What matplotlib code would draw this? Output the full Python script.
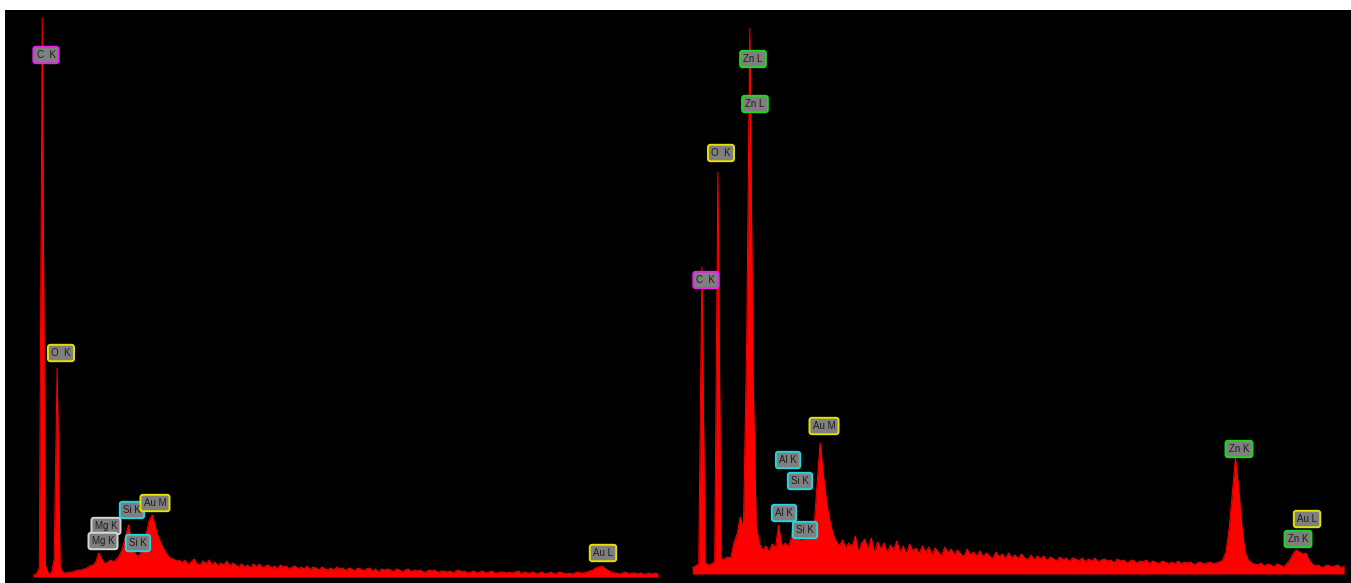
import matplotlib.pyplot as plt
import numpy as np

# EDS spectra, counts per 0.05 keV channel (arbitrary units)
chan_kev = 0.05

left_e0 = 0.14
left_counts = [
    2, 3, 9, 559, 12, 4, 3, 18, 209, 10,
    4, 4, 5, 5, 6, 7, 7, 8, 9, 11,
    12, 15, 24, 18, 13, 15, 17, 15, 18, 22,
    29, 41, 52, 36, 25, 20, 24, 31, 44, 57,
    62, 50, 40, 33, 27, 22, 19, 18, 16, 17,
    14, 17, 12, 15, 18, 13, 12, 16, 13, 17,
    12, 15, 11, 14, 12, 16, 11, 14, 12, 10,
    13, 10, 12, 9, 13, 10, 13, 9, 11, 12,
    9, 11, 8, 12, 10, 11, 8, 10, 11, 8,
    10, 8, 11, 7, 10, 9, 7, 10, 8, 7,
    9, 7, 10, 8, 9, 6, 9, 8, 6, 9,
    8, 6, 8, 9, 6, 8, 5, 8, 7, 8,
    7, 5, 8, 7, 5, 7, 8, 5, 7, 6,
    7, 5, 5, 7, 6, 7, 4, 6, 6, 5,
    6, 4, 6, 7, 5, 6, 4, 5, 6, 4,
    5, 6, 4, 5, 6, 4, 4, 5, 5, 4,
    5, 4, 5, 6, 3, 5, 4, 4, 5, 3,
    4, 5, 3, 4, 5, 3, 4, 5, 4, 3,
    4, 3, 4, 5, 4, 4, 5, 6, 7, 9,
    10, 11, 9, 7, 5, 4, 4, 3, 4, 5,
    3, 4, 4, 3, 4, 3, 3, 4, 3, 4, 3,
]

right_e0 = 0.13
right_counts = [
    6, 8, 10, 307, 11, 9, 10, 12, 402, 15,
    15, 17, 16, 31, 40, 57, 45, 230, 546, 200,
    48, 30, 24, 28, 22, 30, 26, 49, 28, 31,
    27, 36, 70, 38, 33, 36, 40, 35, 42, 88,
    131, 100, 72, 54, 40, 33, 28, 34, 26, 31,
    27, 38, 22, 31, 35, 24, 36, 21, 32, 25,
    31, 21, 29, 24, 33, 22, 28, 20, 30, 23,
    26, 20, 28, 21, 27, 19, 26, 22, 18, 27,
    21, 25, 19, 24, 20, 17, 25, 19, 22, 18,
    23, 17, 21, 18, 15, 22, 17, 20, 15, 21,
    16, 19, 15, 20, 16, 14, 19, 14, 18, 15,
    18, 13, 17, 15, 13, 17, 14, 16, 12, 16,
    15, 13, 16, 12, 15, 13, 16, 12, 14, 15,
    13, 14, 11, 15, 13, 14, 11, 13, 14, 11,
    13, 12, 14, 10, 13, 12, 10, 13, 12, 10,
    12, 10, 13, 10, 12, 11, 12, 9, 11, 12,
    10, 11, 12, 10, 11, 12, 14, 22, 45, 80,
    116, 85, 48, 22, 14, 11, 10, 9, 11, 8,
    10, 9, 7, 10, 9, 7, 10, 14, 20, 24,
    22, 20, 21, 14, 10, 8, 9, 6, 8, 9,
    7, 8, 9, 6, 8,
]

# peak labels: text, line family
left_labels = ["C  K", "O  K", "Mg K", "Mg K", "Si K", "Si K", "Au M", "Au L"]
right_labels = ["Zn L", "Zn L", "O  K", "C  K", "Au M", "Al K", "Si K",
                "Al K", "Si K", "Zn K", "Au L", "Zn K"]

edge_col = {"C": "#e822e8", "O": "#e4e000", "Au": "#e4e000", "Mg": "#d6d6d6",
            "Si": "#1ed8e0", "Al": "#1ed8e0", "Zn": "#1ed81e"}

# where the label boxes sit (keV, counts)
left_pos = [(0.353, 522), (0.605, 224), (1.361, 51), (1.311, 36),
            (1.798, 67), (1.899, 34), (2.185, 74), (9.714, 24)]
right_pos = [(1.080, 515), (1.111, 470), (0.579, 421), (0.344, 294),
             (2.191, 148), (1.628, 114), (1.815, 93), (1.565, 61),
             (1.894, 44), (8.685, 125), (9.750, 55), (9.609, 35)]

W, H = 1351, 583
fig = plt.figure(figsize=(W / 100, H / 100), dpi=100, facecolor="white")

# black screen behind both spectra
bg = fig.add_axes([5 / W, 0, 1 - 5 / W, 1 - 10 / H])
bg.set_facecolor("black")
bg.set_xticks([])
bg.set_yticks([])
for s in bg.spines.values():
    s.set_visible(False)


def panel(rect, xlim, ymax, e0, counts, labels, pos):
    ax = fig.add_axes(rect)
    ax.set_facecolor("none")
    energy = e0 + chan_kev * np.arange(len(counts))
    ax.fill_between(energy, counts, color="#ff0000", lw=0)
    ax.plot(energy, counts, color="#ff0000", lw=0.7)
    for txt, (ex, cy) in zip(labels, pos):
        el = txt.split()[0]
        ax.text(ex, cy, txt, ha="center", va="center", fontsize=7,
                family="Liberation Sans", color="#1c1c1c",
                bbox=dict(boxstyle="round,pad=0.33,rounding_size=0.25",
                          facecolor="#7f7f7f", edgecolor=edge_col[el], lw=1.4))
    ax.set_xlim(*xlim)
    ax.set_ylim(0, ymax)
    ax.axis("off")
    return ax


panel([33 / W, 6 / H, 625 / W, 567 / H], (8 / 59.5, 633 / 59.5), 567,
      left_e0, left_counts, left_labels, left_pos)
panel([692 / W, 9 / H, 653 / W, 564 / H], (8 / 63.9, 661 / 63.9), 564,
      right_e0, right_counts, right_labels, right_pos)

fig.savefig("out.png", dpi=100, facecolor="white")
